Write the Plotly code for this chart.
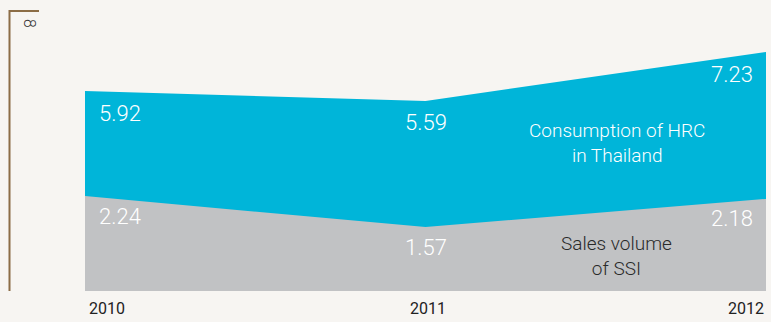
import plotly.graph_objects as go

years = [2010, 2011, 2012]
hrc_consumption = [5.92, 5.59, 7.23]   # Consumption of HRC in Thailand
ssi_sales = [2.24, 1.57, 2.18]         # Sales volume of SSI
axis_top_label = "8"

BLUE = "#00B5D9"
GREY = "#C1C2C4"
BG = "#F7F5F2"
BROWN = "#8C6D46"
FONT = "Roboto"

W, H = 771, 322
ML, MR, MT, MB = 85, 5, 11, 31
PW = W - ML - MR


def px_to_paper_x(px):
    return (px - ML) / PW


fig = go.Figure()

fig.add_trace(go.Scatter(
    x=years, y=hrc_consumption, mode="lines", fill="tozeroy",
    line=dict(color=BLUE, width=0), fillcolor=BLUE, yaxis="y",
    hoverinfo="skip", showlegend=False,
))
fig.add_trace(go.Scatter(
    x=years, y=ssi_sales, mode="lines", fill="tozeroy",
    line=dict(color=GREY, width=0), fillcolor=GREY, yaxis="y2",
    hoverinfo="skip", showlegend=False,
))

annotations = []
anchors = [("left", 12), ("center", 0), ("right", -11)]
for series, yref, shift in ((hrc_consumption, "y", -22), (ssi_sales, "y2", -20)):
    for yr, v, (xa, xs) in zip(years, series, anchors):
        annotations.append(dict(
            x=yr, y=v, xref="x", yref=yref, text=f"{v:.2f}",
            showarrow=False, xanchor=xa, yanchor="middle",
            xshift=xs, yshift=shift,
            font=dict(family=FONT, size=22, color="white", weight=300),
        ))

# year labels under the baseline
year_anchor = [("left", 2), ("center", 2), ("right", 0)]
for yr, (xa, xs) in zip(years, year_anchor):
    annotations.append(dict(
        x=yr, y=0, xref="x", yref="paper", text=str(yr), showarrow=False,
        xanchor=xa, yanchor="top", xshift=xs, yshift=-6,
        font=dict(family=FONT, size=16, color="#222222"),
    ))

# series names
annotations.append(dict(
    x=px_to_paper_x(617), y=(H - MB - 143) / (H - MT - MB),
    xref="paper", yref="paper", text="Consumption of HRC<br>in Thailand",
    showarrow=False, xanchor="center", yanchor="middle",
    font=dict(family=FONT, size=19, color="white", weight=300),
))
annotations.append(dict(
    x=px_to_paper_x(616), y=(H - MB - 256) / (H - MT - MB),
    xref="paper", yref="paper", text="Sales volume<br>of SSI",
    showarrow=False, xanchor="center", yanchor="middle",
    font=dict(family=FONT, size=19, color="#2a2a2a", weight=300),
))

# axis value at the top of the bracket
annotations.append(dict(
    x=px_to_paper_x(30), y=8, xref="paper", yref="y", yshift=6,
    text=axis_top_label, textangle=90, showarrow=False,
    xanchor="center", yanchor="middle",
    font=dict(family=FONT, size=16, color="#333333", weight=300),
))

shapes = [dict(
    type="path", xref="paper", yref="paper",
    path=(f"M {px_to_paper_x(39)},1 L {px_to_paper_x(9.5)},1 "
          f"L {px_to_paper_x(9.5)},0"),
    line=dict(color=BROWN, width=2),
)]

fig.update_layout(
    width=W, height=H,
    margin=dict(l=ML, r=MR, t=MT, b=MB, pad=0),
    paper_bgcolor=BG, plot_bgcolor=BG,
    xaxis=dict(range=[2010, 2012], visible=False, fixedrange=True),
    yaxis=dict(range=[-0.78, 8.604], visible=False, fixedrange=True),
    yaxis2=dict(range=[0.184, 6.251], visible=False, overlaying="y",
                fixedrange=True),
    annotations=annotations,
    shapes=shapes,
)

fig.write_html("out.html", config={"displayModeBar": False})
